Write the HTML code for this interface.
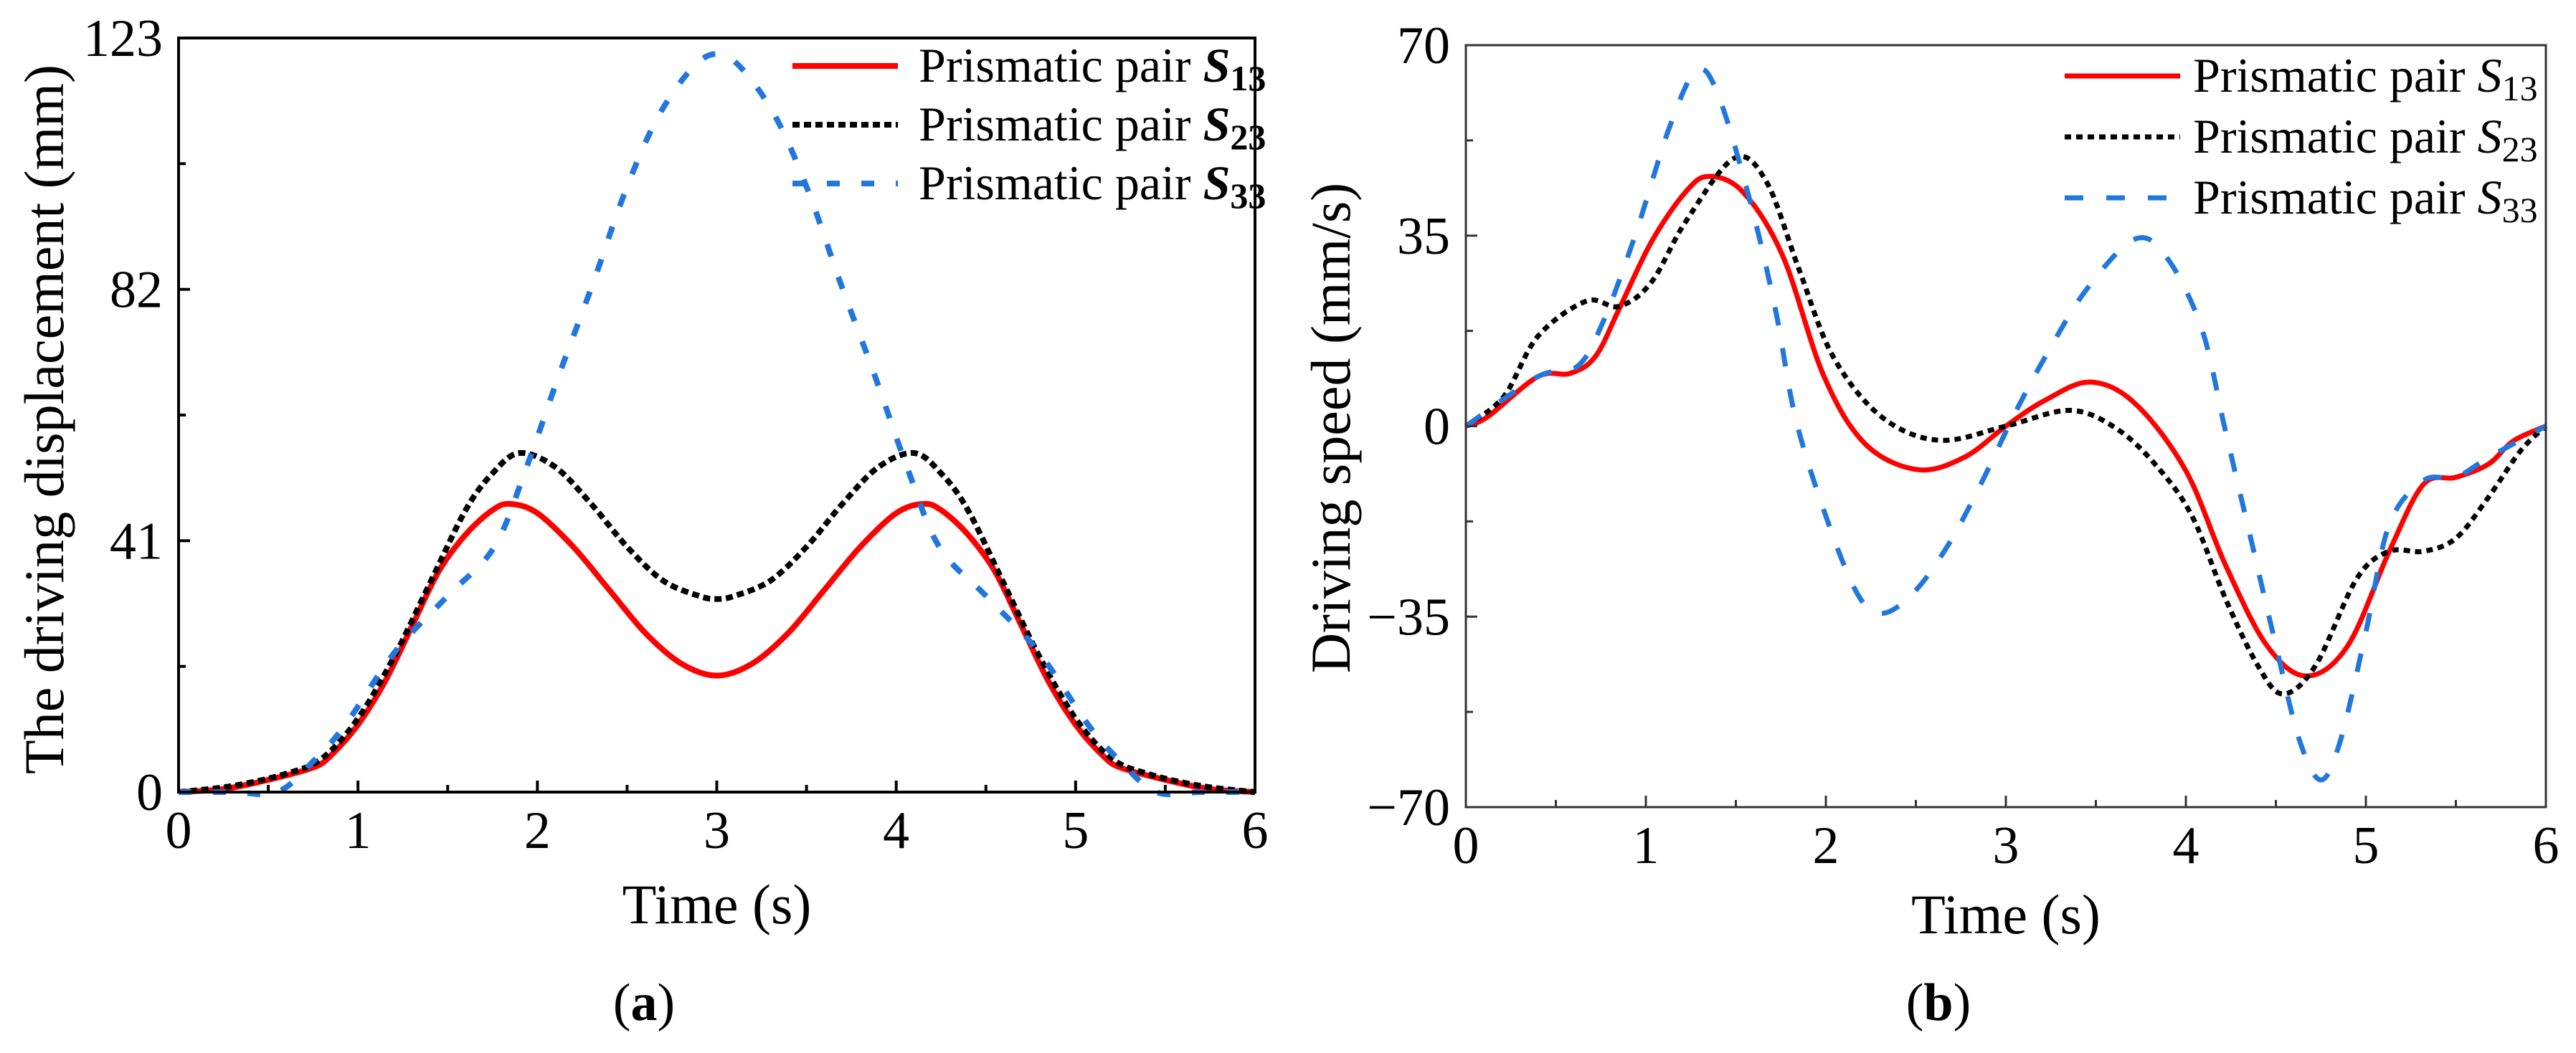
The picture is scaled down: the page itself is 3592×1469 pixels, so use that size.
<!DOCTYPE html>
<html><head><meta charset="utf-8">
<style>
html,body{margin:0;padding:0;background:#fff;}
svg{display:block;font-family:"Liberation Serif","DejaVu Serif",serif;}
</style></head>
<body>
<svg id="fig" width="3592" height="1469" viewBox="0 0 3592 1469" xmlns="http://www.w3.org/2000/svg">
<rect width="3592" height="1469" fill="#fff"/>
<g id="chartA"></g>
<g id="chartB"></g>
</svg>
<script>
// ---- Chart (a) data: displacement ----
const aT13 = [0,0.25,0.5,0.75,0.85,1.0,1.15,1.3,1.45,1.6,1.75,1.85,2.0,2.2,2.4,2.6,2.8,3.0,3.2,3.4,3.6,3.8,4.0,4.15,4.25,4.4,4.55,4.7,4.85,5.0,5.15,5.25,5.5,5.75,6];
const aS13 = [0,0.5,2,4,6,11,18,27,36,42,46,47,45.5,40,33,26,21,19,21,26,33,40,45.5,47,46,42,36,27,18,11,6,4,2,0.5,0];
const aT23 = [0,0.3,0.6,0.8,1.0,1.2,1.4,1.6,1.75,1.9,2.1,2.3,2.5,2.7,2.9,3.0,3.1,3.3,3.5,3.7,3.9,4.1,4.25,4.4,4.6,4.8,5.0,5.2,5.4,5.7,6];
const aS23 = [0,1,3,5.5,12,22,34,46,52,55.3,53,47,40,34.5,32,31.5,32,34.5,40,47,53,55.3,52,46,34,22,12,5.5,3,1,0];
const aT33 = [0,0.3,0.55,0.75,0.93,1.21,1.5,1.76,1.94,2.12,2.31,2.49,2.67,2.86,3.0,3.14,3.33,3.51,3.69,3.88,4.06,4.24,4.5,4.79,5.07,5.25,5.45,5.7,6];
const aS33 = [0,0,0,5,11,23,32,40,53,68,83,98,110,118,120.4,118,110,98,83,68,53,40,32,23,11,5,0,0,0];
const aXTicks = [0,1,2,3,4,5,6];
const aYTicks = [0,41,82,123];

// ---- Chart (b) data: speed ----
const bT13 = [0,0.12,0.4,0.58,0.72,0.85,1.03,1.22,1.35,1.54,1.76,1.99,2.22,2.51,2.77,3.0,3.22,3.47,3.72,4.0,4.22,4.45,4.67,4.9,5.13,5.32,5.5,5.68,5.82,6];
const bS13 = [0,1.7,9.1,9.7,12.8,21.4,33.8,43,45.9,43,31.3,9.1,-3.3,-8,-5.7,0,4.8,8.1,4.1,-8.2,-25.5,-40.3,-45.9,-40.3,-23,-10.7,-9.4,-7,-2.7,0];
const bT23 = [0,0.21,0.4,0.67,0.85,1.03,1.22,1.49,1.67,1.85,2.04,2.31,2.63,3.0,3.36,3.63,3.86,4.04,4.22,4.4,4.54,4.72,4.95,5.13,5.32,5.5,5.68,5.86,6];
const bS23 = [0,5.4,16.5,23,22,26.4,37.5,49.2,44.9,28.9,12.8,1.7,-2.6,0,2.9,-0.8,-8.2,-16.9,-31.7,-44,-49.2,-44,-28,-23,-23,-20.6,-13.1,-4.5,0];
const bT33 = [0,0.4,0.62,0.76,0.94,1.13,1.28,1.4,1.58,1.72,1.83,1.99,2.17,2.31,2.49,2.68,2.86,3.04,3.22,3.45,3.72,3.9,4.09,4.22,4.36,4.5,4.63,4.75,4.86,5.0,5.13,5.32,5.5,5.68,6];
const bS33 = [0,9.1,11,19,35,54.8,65.3,61,41.2,21.4,1.7,-15.6,-30.5,-34.4,-30.5,-21.8,-10.7,1.7,12.8,25.2,34.4,30.7,17.7,-0.9,-20.6,-40.3,-57.6,-65,-57.6,-37.8,-18.1,-10,-9.4,-5.8,0];
const bXTicks = [0,1,2,3,4,5,6];
const bYTicks = [-70,-35,0,35,70];

const NS = "http://www.w3.org/2000/svg";
function mk(parent, tag, attrs, text){
  const e = document.createElementNS(NS, tag);
  for (const k in attrs) e.setAttribute(k, attrs[k]);
  if (text !== undefined) e.textContent = text;
  parent.appendChild(e);
  return e;
}
function smoothPath(xs, ys, sx, sy){
  const p = xs.map((x,i)=>[sx(x), sy(ys[i])]);
  let d = "M" + p[0][0].toFixed(1) + "," + p[0][1].toFixed(1);
  for (let i=0;i<p.length-1;i++){
    const p0 = p[i-1]||p[i], p1=p[i], p2=p[i+1], p3=p[i+2]||p[i+1];
    const c1 = [p1[0]+(p2[0]-p0[0])/6, p1[1]+(p2[1]-p0[1])/6];
    const c2 = [p2[0]-(p3[0]-p1[0])/6, p2[1]-(p3[1]-p1[1])/6];
    d += " C"+c1[0].toFixed(1)+","+c1[1].toFixed(1)+" "+c2[0].toFixed(1)+","+c2[1].toFixed(1)+" "+p2[0].toFixed(1)+","+p2[1].toFixed(1);
  }
  return d;
}

function drawChart(g, cfg){
  const {x0,x1,y0,y1,xmin,xmax,ymin,ymax,xTicks,yTicks,axisW,axisColor} = cfg;
  const sx = v => x0 + (v-xmin)/(xmax-xmin)*(x1-x0);
  const sy = v => y1 - (v-ymin)/(ymax-ymin)*(y1-y0);
  cfg.series.forEach(s=>{
    const p = mk(g, "path", {d: smoothPath(s.t, s.v, sx, sy), fill:"none", stroke:s.color, "stroke-width":s.w, "stroke-dasharray":s.dash||"none", "stroke-linejoin":"round"});
    
    
  });
  const fr = mk(g, "rect", {x:x0, y:y0, width:x1-x0, height:y1-y0, fill:"none", stroke:axisColor, "stroke-width":axisW});
  
  
  for (let i=0;i<xTicks.length;i++){
    const x = sx(xTicks[i]);
    mk(g,"line",{x1:x,x2:x,y1:y1,y2:y1-16,stroke:axisColor,"stroke-width":axisW});
    if (i<xTicks.length-1){
      const xm = sx((xTicks[i]+xTicks[i+1])/2);
      mk(g,"line",{x1:xm,x2:xm,y1:y1,y2:y1-10,stroke:axisColor,"stroke-width":axisW});
    }
    const t = mk(g,"text",{x:x,y:y1+78,"text-anchor":"middle","font-size":74,fill:"#000"}, String(xTicks[i]));
    
    
  }
  for (let i=0;i<yTicks.length;i++){
    const y = sy(yTicks[i]);
    mk(g,"line",{x1:x0,x2:x0+16,y1:y,y2:y,stroke:axisColor,"stroke-width":axisW});
    if (i<yTicks.length-1){
      const ym = sy((yTicks[i]+yTicks[i+1])/2);
      mk(g,"line",{x1:x0,x2:x0+10,y1:ym,y2:ym,stroke:axisColor,"stroke-width":axisW});
    }
    const t = mk(g,"text",{x:x0-22,y:y+25,"text-anchor":"end","font-size":74,fill:"#000"}, String(yTicks[i]).replace("-","\u2212"));
    
    
  }
  const xt = mk(g,"text",{x:(x0+x1)/2,y:cfg.xTitleY,"text-anchor":"middle","font-size":78,fill:"#000"}, "Time (s)");
  
  
  const yt = mk(g,"text",{x:0,y:0,"text-anchor":"middle","font-size":78,fill:"#000",transform:"translate("+cfg.yTitleX+","+cfg.yTitleY+") rotate(-90)"}, cfg.yTitle);
  
  
  cfg.series.forEach((s,i)=>{
    const ly = cfg.legY + i*cfg.legDy;
    const leg = mk(g,"g",{});
    
    
    mk(leg,"line",{x1:cfg.legX1,x2:cfg.legX2,y1:ly,y2:ly,stroke:s.color,"stroke-width":s.w,"stroke-dasharray":s.dash||"none"});
    const t = mk(leg,"text",{x:cfg.legTx,y:ly+22,"font-size":68,fill:"#000"}, "Prismatic pair ");
    mk(t,"tspan",{"font-style":"italic","font-weight":cfg.legBold?"bold":"normal"}, "S");
    mk(t,"tspan",{"font-size":50,dy:12,"font-weight":cfg.legBold?"bold":"normal"}, s.sub);
  });
  const pl = mk(g,"text",{x:cfg.panelX,y:cfg.panelY,"text-anchor":"middle","font-size":74,fill:"#000"},"(");
  mk(pl,"tspan",{"font-weight":"bold"},cfg.panel);
  mk(pl,"tspan",{},")");
  
  
}

drawChart(document.getElementById("chartA"), {
  x0:249,x1:1750,y0:53,y1:1105,xmin:0,xmax:6,ymin:0,ymax:123,
  xTicks:aXTicks,yTicks:aYTicks,axisW:4,axisColor:"#000",
  xTitleY:1288,yTitleX:88,yTitleY:585,yTitle:"The driving displacement (mm)",
  legX1:1105,legX2:1252,legTx:1281,legY:92,legDy:82,legBold:true,
  panelX:898,panelY:1423,panel:"a",
  series:[
    {name:"line-s13",t:aT13,v:aS13,color:"#ff0000",w:8,sub:"13"},
    {name:"line-s23",t:aT23,v:aS23,color:"#000",w:8,dash:"10 6",sub:"23"},
    {name:"line-s33",t:aT33,v:aS33,color:"#2277dd",w:8,dash:"18 30",sub:"33"}
  ]
});
drawChart(document.getElementById("chartB"), {
  x0:2044,x1:3550,y0:63,y1:1126,xmin:0,xmax:6,ymin:-70,ymax:70,
  xTicks:bXTicks,yTicks:bYTicks,axisW:3,axisColor:"#333",
  xTitleY:1302,yTitleX:1882,yTitleY:597,yTitle:"Driving speed (mm/s)",
  legX1:2879,legX2:3040,legTx:3058,legY:106,legDy:85,legBold:false,
  panelX:2703,panelY:1423,panel:"b",
  series:[
    {name:"line-s13",t:bT13,v:bS13,color:"#ff0000",w:7,sub:"13"},
    {name:"line-s23",t:bT23,v:bS23,color:"#000",w:7,dash:"9 7",sub:"23"},
    {name:"line-s33",t:bT33,v:bS33,color:"#2277dd",w:7,dash:"26 32",sub:"33"}
  ]
});
</script>
</body></html>
